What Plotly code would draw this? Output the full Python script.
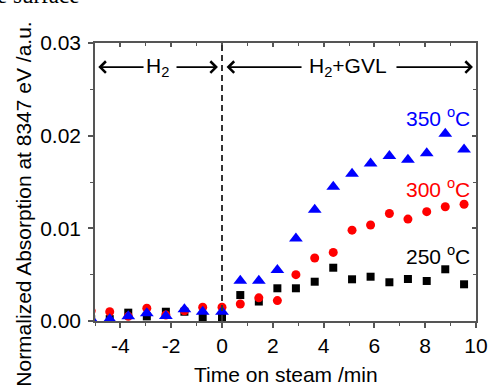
import plotly.graph_objects as go

# ---- data ----
time_min = [-5.15, -4.42, -3.69, -2.96, -2.21, -1.48, -0.76, 0.0, 0.72, 1.45, 2.18,
            2.91, 3.65, 4.38, 5.12, 5.85, 6.59, 7.32, 8.06, 8.79, 9.53]
abs_250 = [0.0002, 0.0002, 0.0009, 0.0005, 0.0010, 0.0010, 0.0004, 0.00036, 0.0028, 0.0021, 0.00353,
           0.00353, 0.00424, 0.00575, 0.0045, 0.00478, 0.00418, 0.00453, 0.00432, 0.00558, 0.00396]
abs_300 = [0.0011, 0.0010, 0.0005, 0.00137, 0.00065, 0.0011, 0.00148, 0.00148, 0.00183, 0.0025, 0.0022,
           0.0050, 0.0068, 0.0074, 0.0098, 0.01036, 0.0116, 0.0110, 0.0118, 0.01233, 0.0126]
abs_350 = [0.0002, 0.0002, 0.0005, 0.00083, 0.00054, 0.00126, 0.0010, 0.0010, 0.00435, 0.00435, 0.0055,
           0.0089, 0.0120, 0.0145, 0.0159, 0.0170, 0.0178, 0.0174, 0.0181, 0.0202, 0.0185]

series_names = ["250 <sup>o</sup>C", "300 <sup>o</sup>C", "350 <sup>o</sup>C"]
label_y = [0.0071, 0.01435, 0.0220]

x_tick_vals = [-4, -2, 0, 2, 4, 6, 8, 10]
x_tick_text = ["-4", "-2", "0", "2", "4", "6", "8", "10"]
y_tick_vals = [0.00, 0.01, 0.02, 0.03]
y_tick_text = ["0.00", "0.01", "0.02", "0.03"]

switch_time = 0.0          # gas switched from H2 to H2+GVL
phase_names = ["H<sub>2</sub>", "H<sub>2</sub>+GVL"]

FONT = "Liberation Sans, Arial, sans-serif"
FS = 21
colors = ["#000000", "#FF0000", "#0000FF"]
symbols = ["square", "circle", "triangle-up"]
sizes = [8, 9, 12]

fig = go.Figure()
for vals, c, s, sz in zip([abs_250, abs_300, abs_350], colors, symbols, sizes):
    fig.add_trace(go.Scatter(x=time_min, y=vals, mode="markers",
                             marker=dict(color=c, symbol=s, size=sz, line=dict(width=0)),
                             showlegend=False))
# empty trace to bring the mirrored (top/right) axes into existence
fig.add_trace(go.Scatter(x=[], y=[], xaxis="x2", yaxis="y2", showlegend=False))

axcol = "#555555"
common = dict(showgrid=False, zeroline=False, showline=True, linecolor=axcol, linewidth=1.5,
              tickcolor=axcol, tickwidth=1.5, automargin=False)
fig.update_layout(
    width=489, height=385, autosize=False,
    margin=dict(l=95, r=13, t=43, b=64),
    paper_bgcolor="white", plot_bgcolor="white",
    font=dict(family=FONT, size=FS, color="black"),
    xaxis=dict(range=[-5, 10], tickvals=x_tick_vals, ticktext=x_tick_text, ticks="outside", ticklen=5,
               minor=dict(dtick=1, tick0=0, ticks="outside", ticklen=3, tickcolor=axcol, tickwidth=1.2),
               tickfont=dict(size=FS, family=FONT), **common),
    yaxis=dict(range=[0, 0.03], tickvals=y_tick_vals, ticktext=y_tick_text, ticks="outside", ticklen=5,
               minor=dict(dtick=0.005, tick0=0, ticks="outside", ticklen=3, tickcolor=axcol, tickwidth=1.2),
               tickfont=dict(size=FS, family=FONT), ticklabelstandoff=3, **common),
    xaxis2=dict(range=[-5, 10], overlaying="x", side="top", anchor="y2", tickvals=x_tick_vals,
                ticks="inside", ticklen=4, showticklabels=False,
                minor=dict(dtick=1, tick0=0, ticks="inside", ticklen=3, tickcolor=axcol, tickwidth=1.2),
                **common),
    yaxis2=dict(range=[0, 0.03], overlaying="y", side="right", anchor="x2", tickvals=y_tick_vals,
                ticks="inside", ticklen=4, showticklabels=False,
                minor=dict(dtick=0.005, tick0=0, ticks="inside", ticklen=3, tickcolor=axcol, tickwidth=1.2),
                **common),
)

# dashed divider at gas switch
fig.add_shape(type="line", xref="x", yref="paper", x0=switch_time, x1=switch_time, y0=0, y1=1,
              line=dict(color="#333333", width=2, dash="6px,4px"))

# phase arrows
arrow_y = 0.0274
arrow_specs = [(-4.87, -3.03), (-0.16, -1.85), (0.18, 3.19), (9.88, 6.81)]  # (head, tail)
for head, tail in arrow_specs:
    fig.add_annotation(x=head, y=arrow_y, ax=tail, ay=arrow_y, xref="x", yref="y",
                       axref="x", ayref="y", text="", showarrow=True,
                       arrowhead=4, arrowsize=1.4, arrowwidth=1.6, arrowcolor="black")
for name, xc in zip(phase_names, [-2.52, 4.96]):
    fig.add_annotation(x=xc, y=arrow_y, xref="x", yref="y", text=name, showarrow=False,
                       font=dict(size=FS, color="black", family=FONT), yanchor="middle")

# temperature labels
for name, yv, c in zip(series_names, label_y, colors):
    fig.add_annotation(x=9.84, y=yv, xref="x", yref="y", text=name, showarrow=False,
                       xanchor="right", yanchor="middle", font=dict(size=FS, color=c, family=FONT))

# axis titles
fig.add_annotation(x=0.501, y=-0.194, xref="paper", yref="paper", text="Time on steam /min",
                   showarrow=False, xanchor="center", yanchor="middle",
                   font=dict(size=FS, color="black", family=FONT))
fig.add_annotation(x=-0.187, y=0.421, xref="paper", yref="paper",
                   text="Normalized Absorption at 8347 eV /a.u.", textangle=-90,
                   showarrow=False, xanchor="center", yanchor="middle",
                   font=dict(size=21, color="black", family=FONT))
# clipped caption text at the very top
fig.add_annotation(x=-0.262, y=1.12, xref="paper", yref="paper", text="e surface",
                   showarrow=False, xanchor="left", yanchor="bottom",
                   font=dict(size=23, color="black", family="Liberation Serif, Times New Roman, serif"))

fig.write_html(
    "out.html",
    config={"responsive": False, "displayModeBar": False},
    post_script="document.documentElement.style.overflow='hidden';"
                "document.body.style.overflow='hidden';document.body.style.margin='0';",
)
